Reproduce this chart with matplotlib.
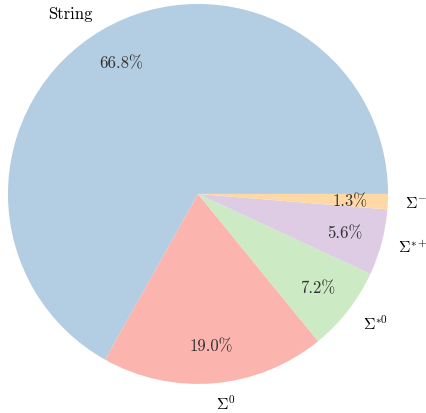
import matplotlib
matplotlib.use("Agg")
import matplotlib.pyplot as plt

plt.rcParams['font.family'] = 'serif'
plt.rcParams['font.serif'] = ['cmr10']
plt.rcParams['mathtext.fontset'] = 'cm'
plt.rcParams['axes.unicode_minus'] = False

labels = ['String', r'$\Sigma^0$', r'$\Sigma^{*0}$', r'$\Sigma^{*+}$', r'$\Sigma^{-}$']
values = [66.8, 19.0, 7.2, 5.6, 1.3]
colors = ['#b3cde3', '#fbb4ae', '#ccebc5', '#decbe4', '#fed9a6']

total = sum(values)

fig = plt.figure(figsize=(4.27, 4.14), dpi=100)
ax = fig.add_axes([0, 0, 1, 1])
wedges, texts, autotexts = ax.pie(values, labels=labels, colors=colors,
                                  autopct=lambda p: f'{p * total / 100:.1f}%',
                                  pctdistance=0.8,
                                  labeldistance=1.1, startangle=0,
                                  textprops={'fontsize': 12})
for t in autotexts:
    t.set_color('#333333')
for t in texts[1:]:
    t.set_fontsize(11.5)
texts[3].set_x(texts[3].get_position()[0] - 0.01)
texts[4].set_x(texts[4].get_position()[0] - 0.012)
ax.set_aspect('auto')
ax.set_xlim(-1.042, 1.205)
ax.set_ylim(-1.153, 1.026)
ax.axis('off')
fig.savefig('out.png', dpi=100)
